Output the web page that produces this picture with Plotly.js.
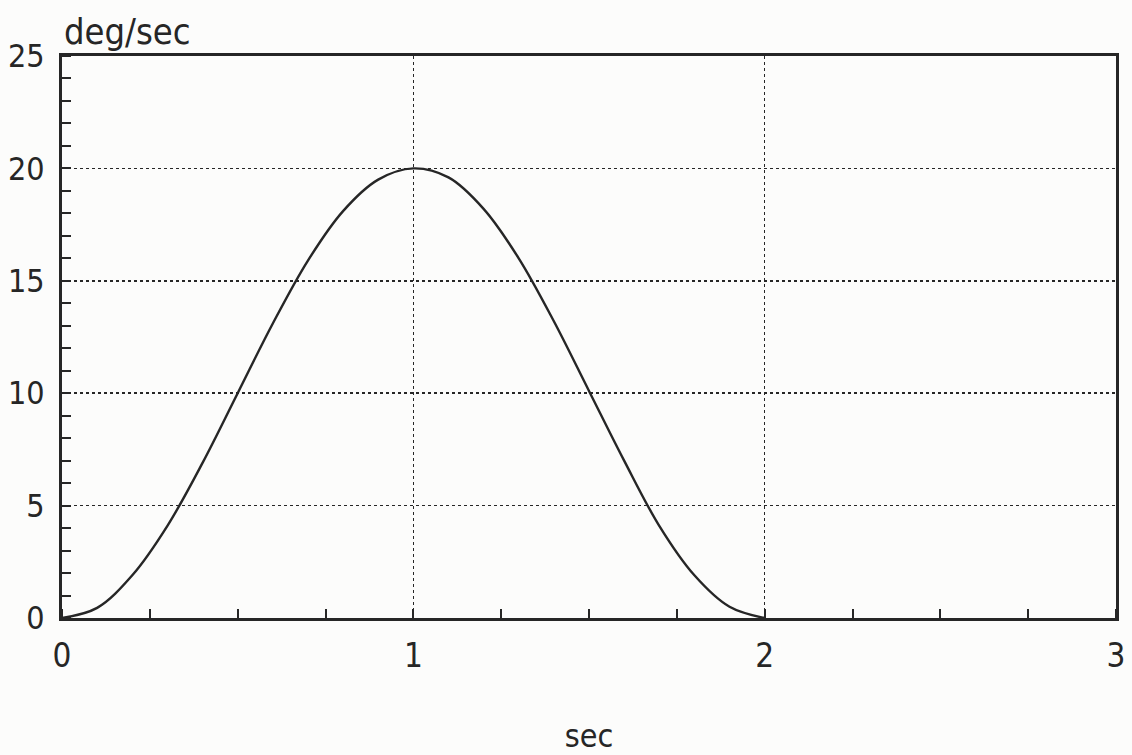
<!DOCTYPE html>
<html>
<head>
<meta charset="utf-8">
<script src="https://cdn.plot.ly/plotly-3.0.1.min.js"></script>
<style>html,body{margin:0;padding:0;background:#fcfcfb;}</style>
</head>
<body>
<div id="chart" style="width:1132px;height:755px;"></div>
<script>
// time (sec)
var timeSec = [0, 0.1, 0.2, 0.3, 0.4, 0.5, 0.6, 0.7, 0.8, 0.9, 1.0, 1.1, 1.2, 1.3, 1.4, 1.5, 1.6, 1.7, 1.8, 1.9, 2.0];
// angular rate (deg/sec)
var rateDegSec = [0, 0.45, 1.9, 4.1, 6.9, 10.0, 13.1, 15.9, 18.1, 19.5, 20.0, 19.6, 18.2, 16.0, 13.2, 10.1, 7.0, 4.1, 1.9, 0.5, 0];
var xTicks = [0, 1, 2, 3];
var yTicks = [0, 5, 10, 15, 20, 25];
var yTitle = 'deg/sec';
var xTitle = 'sec';

var ink = '#262626';
var fontFam = 'DejaVu Sans Condensed, Liberation Sans Narrow, DejaVu Sans, sans-serif';

var trace = {
  x: timeSec, y: rateDegSec, type: 'scatter', mode: 'lines',
  line: {color: ink, width: 2.4, shape: 'spline', smoothing: 1},
  hoverinfo: 'skip'
};

var layout = {
  width: 1132, height: 755,
  paper_bgcolor: '#fcfcfb', plot_bgcolor: '#fcfcfb',
  margin: {l: 62, r: 16, t: 56, b: 137},
  showlegend: false,
  font: {family: fontFam, color: ink, size: 32},
  xaxis: {
    range: [0, 3], tickvals: xTicks, ticktext: xTicks.map(String),
    ticks: '', showline: true, linewidth: 3, linecolor: ink, mirror: true,
    showgrid: true, gridcolor: ink, gridwidth: 1.6, griddash: 'dot',
    zeroline: false, ticklabelstandoff: 6,
    tickfont: {family: fontFam, size: 33, color: ink},
    minor: {dtick: 0.25, ticks: 'inside', ticklen: 9, tickwidth: 2, tickcolor: ink, showgrid: false},
    title: {text: xTitle, font: {family: fontFam, size: 32, color: ink}, standoff: 60}
  },
  yaxis: {
    range: [0, 25], tickvals: yTicks, ticktext: yTicks.map(String),
    ticks: '', showline: true, linewidth: 3, linecolor: ink, mirror: true,
    showgrid: true, gridcolor: ink, gridwidth: 1.6, griddash: 'dot',
    zeroline: false, ticklabelstandoff: 8,
    tickfont: {family: fontFam, size: 32, color: ink},
    minor: {dtick: 1, ticks: 'inside', ticklen: 9, tickwidth: 2, tickcolor: ink, showgrid: false}
  },
  annotations: [{
    text: yTitle, xref: 'paper', yref: 'paper', x: 0, y: 1,
    xanchor: 'left', yanchor: 'bottom', yshift: 2, showarrow: false,
    font: {family: fontFam, size: 36, color: ink}
  }]
};

Plotly.newPlot('chart', [trace], layout, {displayModeBar: false, staticPlot: true});
</script>
</body>
</html>
